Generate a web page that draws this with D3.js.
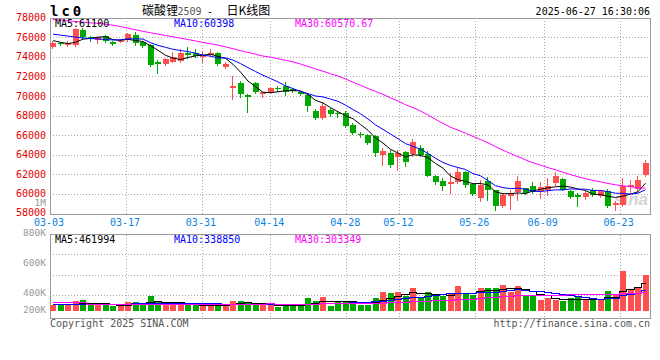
<!DOCTYPE html>
<html><head><meta charset="utf-8">
<script src="https://cdn.jsdelivr.net/npm/d3@7"></script>
<style>body{margin:0;background:#fff}svg{display:block}</style>
</head><body>
<script>
// ---------- data ----------
const dates = ["03-03","03-04","03-05","03-06","03-07","03-10","03-11","03-12","03-13","03-14",
"03-17","03-18","03-19","03-20","03-21","03-24","03-25","03-26","03-27","03-28",
"03-31","04-01","04-02","04-03","04-07","04-08","04-09","04-10","04-11","04-14",
"04-15","04-16","04-17","04-18","04-21","04-22","04-23","04-24","04-25","04-28",
"04-29","04-30","05-06","05-07","05-08","05-09","05-12","05-13","05-14","05-15",
"05-16","05-19","05-20","05-21","05-22","05-23","05-26","05-27","05-28","05-29",
"05-30","06-03","06-04","06-05","06-06","06-09","06-10","06-11","06-12","06-13",
"06-16","06-17","06-18","06-19","06-20","06-23","06-24","06-25","06-26","06-27"];

const open = [75050,75400,75250,75220,76750,76000,75730,76170,75560,75600,
75730,76240,75560,75220,73520,73280,73520,73590,74430,74370,
74030,74200,74430,73010,70770,71380,70090,71320,70230,70460,
70870,71040,70700,70360,70120,68490,67750,68600,68260,68260,
67070,66150,66050,65870,64010,64180,63775,64245,64060,64690,
64110,61870,61290,61020,61190,62200,61050,59600,61290,60372,
58740,59830,60170,60575,60780,60270,60440,61120,61560,60300,
59900,59660,60440,59830,60300,58900,58910,60700,60460,61900];

const high = [75600,75500,75600,76900,76950,76100,76050,76250,75650,75800,
76450,76570,75650,75300,73690,73900,74540,74780,75050,74780,
74640,74780,74540,73460,72060,71580,70200,71480,70460,70950,
71000,71480,70800,70450,70200,68700,69280,68800,68420,68420,
67240,66350,66150,66000,64690,64520,64520,64400,65640,65030,
64345,61950,61665,62175,62650,62300,61150,61460,61766,60450,
60050,60440,61870,60650,61185,61260,61665,62280,61650,60450,
60100,60250,60600,60350,60550,59300,61640,61390,61870,63430];

const low = [74950,75200,75150,75100,75900,75600,75400,75550,75200,75500,
75650,75220,75050,73080,72400,73150,73450,73520,73860,74030,
73520,74100,73210,72840,69690,69850,68320,70300,69850,70350,
70550,70120,70400,70100,68420,67650,67650,67950,67880,66830,
66100,65850,65100,63840,62920,62790,62480,62820,63900,63900,
61800,61050,60440,60135,61100,60750,59900,59300,59430,58400,
58650,58500,59430,60000,60050,59630,59930,60950,60400,59600,
58800,59500,59760,59700,58700,58400,58810,60240,60340,61870];

const close = [75450,75300,75450,76820,76030,75800,76000,75660,75290,75650,
76340,75400,75150,73180,73280,73790,73970,74430,74200,74100,
74200,74430,73280,73250,71040,70230,69850,70460,70360,70810,
70700,70360,70530,70230,68930,67750,69000,68150,68150,66890,
66220,66050,65200,64180,64345,62990,64180,63225,65260,64010,
61870,61190,60850,61190,62200,60950,60034,60950,60440,58740,
59930,60100,61290,60100,60170,60710,60850,61800,60440,59700,
59700,60100,59930,60270,58800,59100,60780,60950,61430,63200];

const volume = [101000,101000,101000,174000,186000,130000,101000,101000,85000,85000,
157000,152000,101000,254000,174000,118000,118000,118000,101000,101000,
101000,101000,140000,101000,174000,174000,157000,101000,101000,101000,
63000,101000,101000,118000,225000,174000,232000,93000,157000,174000,
152000,101000,101000,220000,327000,310000,327000,254000,389000,232000,
327000,254000,254000,288000,423000,310000,271000,389000,389000,389000,
440000,327000,423000,254000,271000,186000,220000,186000,174000,220000,
242000,186000,198000,186000,343000,271000,682000,377000,389000,609000];

const ma5Head  = [75660,75480,75360,75480];
const ma10Head = [76320,76220,76120,76010,75930,75870,75830,75770,75730];
const ma30Head = [77820,77760,77680,77610,77550,77480,77420,77340,77230,77100,
76930,76770,76610,76460,76320,76180,76050,75910,75770,75630,
75470,75340,75200,75020,74830,74630,74450,74270,74080];
const vma5Head  = [125000,120000,118000,125000];
const vma10Head = [118000,118000,117000,118000,120000,122000,121000,119000,116000];
const vma30Head = [150000,150000,150000,150000,150000,115000,115000,115000,115000,115000,
115000,115000,115000,115000,115000,115000,115000,115000,115000,115000,
115000,115000,115000,115000,115000,115000,115000,115000,115000];

const priceTicks = [78000,76000,74000,72000,70000,68000,66000,64000,62000,60000,58000];
const volTicks = [1000000,800000,600000,400000,200000];
const volTickLabels = ["1M","800K","600K","400K","200K"];
const dateTicks = ["03-03","03-17","03-31","04-14","04-28","05-12","05-26","06-09","06-23"];
const priceMaLabels = ["MA5:61100","MA10:60398","MA30:60570.67"];
const volMaLabels = ["MA5:461994","MA10:338850","MA30:303349"];
const maColors = ["#000000","#0000ff","#ff00ff"];

// ---------- layout ----------
const W = 660, H = 360;
const L = 50, R = 650;
const pTop = 17.7, pBot = 213.5;
const vTop = 234.5, vBot = 318.5, vBase = 311;
const UP = "#ff5050", DOWN = "#00a800";
const MONO = "'DejaVu Sans Mono', monospace";

const n = dates.length;
const xb = d3.scaleBand().domain(d3.range(n)).range([L, R]).paddingInner(0.2).paddingOuter(0.1).align(0);
const gx = d3.scaleLinear().domain([0, n - 1]).range([L, R]);
const yP = d3.scaleLinear().domain([58000, 78000]).range([pBot, pTop]);
const yV = d3.scaleLinear().domain([0, 1000000]).range([vBase, vBase - 59.1]);
const yVLabel = d3.scaleLinear().domain([0, 1000000]).range([352, 202.5]);

function movingAvg(vals, win, head) {
  return vals.map((v, i) => i < head.length ? head[i] : d3.mean(vals.slice(i - win + 1, i + 1)));
}
const pMA = [movingAvg(close, 5, ma5Head), movingAvg(close, 10, ma10Head), movingAvg(close, 30, ma30Head)];
const vMA = [movingAvg(volume, 5, vma5Head), movingAvg(volume, 10, vma10Head), movingAvg(volume, 30, vma30Head)];

const svg = d3.select("body").append("svg").attr("width", W).attr("height", H)
  .style("font-family", MONO);
svg.append("rect").attr("width", W).attr("height", H).attr("fill", "#fff");

const crisp = v => Math.round(v) + 0.5;
const gridColor = "#a8a8a8";

// ---------- grids ----------
const g = svg.append("g").attr("shape-rendering", "crispEdges");
g.selectAll(".hp").data(priceTicks.slice(1, -1)).join("line")
  .attr("x1", L).attr("x2", R).attr("y1", d => crisp(yP(d))).attr("y2", d => crisp(yP(d)))
  .attr("stroke", gridColor).attr("stroke-dasharray", "1,2");
g.selectAll(".hv").data(d3.range(1, 4)).join("line")
  .attr("x1", L).attr("x2", R).attr("y1", d => Math.floor(vTop + d * 20.4) + 0.5).attr("y2", d => Math.floor(vTop + d * 20.4) + 0.5)
  .attr("stroke", gridColor).attr("stroke-dasharray", "1,2");
const tickIdx = dateTicks.map(t => dates.indexOf(t));
tickIdx.slice(1).forEach(i => {
  const x = crisp(gx(i));
  g.append("line").attr("x1", x).attr("x2", x).attr("y1", pTop).attr("y2", pBot).attr("stroke", gridColor).attr("stroke-dasharray", "1,2");
  g.append("line").attr("x1", x).attr("x2", x).attr("y1", vTop).attr("y2", vBot).attr("stroke", gridColor).attr("stroke-dasharray", "1,2");
});

// watermark
svg.append("text").attr("x", R - 2).attr("y", 205).attr("text-anchor", "end")
  .attr("font-family", "'Liberation Sans', sans-serif").attr("font-style", "italic").attr("font-weight", "bold")
  .attr("font-size", 17).attr("fill", "#d4d4d4").text("sina");

// ---------- frames ----------
g.append("rect").attr("x", L + 0.5).attr("y", Math.round(pTop) + 0.5).attr("width", R - L).attr("height", Math.round(pBot) - Math.round(pTop))
  .attr("fill", "none").attr("stroke", "#999");
g.append("rect").attr("x", L + 0.5).attr("y", vTop).attr("width", R - L).attr("height", vBot - vTop)
  .attr("fill", "none").attr("stroke", "#999");

// ---------- candles ----------
const cg = svg.append("g").attr("shape-rendering", "crispEdges");
const idx = d3.range(n);
const bx = i => Math.round(xb(i));
const col = i => close[i] >= open[i] ? UP : DOWN;
cg.selectAll(".wick").data(idx).join("line")
  .attr("x1", i => bx(i) + 2.5).attr("x2", i => bx(i) + 2.5)
  .attr("y1", i => Math.round(yP(high[i]))).attr("y2", i => Math.round(yP(low[i])) + 1)
  .attr("stroke", col);
cg.selectAll(".body").data(idx).join("rect")
  .attr("x", bx).attr("width", Math.round(xb.bandwidth()))
  .attr("y", i => Math.round(yP(Math.max(open[i], close[i]))))
  .attr("height", i => Math.max(1, Math.round(yP(Math.min(open[i], close[i]))) - Math.round(yP(Math.max(open[i], close[i])))))
  .attr("fill", col);

cg.selectAll(".vol").data(idx).join("rect")
  .attr("x", bx).attr("width", Math.round(xb.bandwidth()))
  .attr("y", i => Math.round(yV(volume[i])))
  .attr("height", i => vBase - Math.round(yV(volume[i])))
  .attr("fill", col);

// ---------- MA lines ----------
const cx = i => xb(i) + xb.bandwidth() / 2;
pMA.forEach((arr, k) => {
  svg.append("path").datum(arr)
    .attr("d", d3.line().x((d, i) => cx(i)).y(d => yP(d)))
    .attr("fill", "none").attr("stroke", maColors[k]).attr("stroke-width", 1);
});
vMA.forEach((arr, k) => {
  svg.append("path").datum(arr)
    .attr("d", d3.line().curve(d3.curveStep).x((d, i) => cx(i)).y(d => Math.round(yV(d)) + 0.5))
    .attr("fill", "none").attr("stroke", maColors[k]).attr("stroke-width", 1).attr("shape-rendering", "crispEdges");
});

// ---------- texts ----------
const T = svg.append("g").attr("font-family", MONO).attr("font-size", 10);
T.selectAll(".pl").data(priceTicks).join("text")
  .attr("x", 46).attr("y", d => Math.min(yP(d), 212)).attr("dy", "0.35em").attr("text-anchor", "end")
  .attr("fill", "#e00000").text(d => d);
T.selectAll(".vl").data(volTicks).join("text")
  .attr("x", 46).attr("y", d => Math.min(yVLabel(d), 310)).attr("dy", "0.35em").attr("text-anchor", "end")
  .attr("font-size", 9.5).attr("fill", "#999").text((d, i) => volTickLabels[i]);
T.selectAll(".dl").data(tickIdx).join("text")
  .attr("x", i => gx(i) - 1).attr("y", 225.5).attr("text-anchor", "middle")
  .attr("fill", "#0a84e0").text((i, k) => dateTicks[k]);
const legX = [55, 174, 295];
priceMaLabels.forEach((s, k) => T.append("text").attr("x", legX[k]).attr("y", 27).attr("fill", maColors[k]).text(s));
volMaLabels.forEach((s, k) => T.append("text").attr("x", legX[k]).attr("y", 242.5).attr("fill", maColors[k]).text(s));

// header
svg.append("text").attr("x", 50).attr("y", 16).attr("font-family", MONO).attr("font-weight", "bold")
  .attr("font-size", 14).attr("letter-spacing", 3).attr("fill", "#000").text("lc0");
const title = svg.append("text").attr("y", 15).attr("font-size", 12).attr("fill", "#000")
  .attr("font-family", "'Noto Sans CJK SC', sans-serif");
title.append("tspan").attr("x", 142).text("碳酸锂");
title.append("tspan").attr("x", 177.5).attr("font-family", MONO).attr("font-size", 10).attr("fill", "#555").text("2509");
title.append("tspan").attr("x", 207).attr("font-family", MONO).attr("font-size", 10).text("-");
title.append("tspan").attr("x", 226.5).text("日K线图");
svg.append("text").attr("x", R).attr("y", 15).attr("text-anchor", "end").attr("font-family", MONO)
  .attr("font-size", 10).attr("fill", "#000").text("2025-06-27 16:30:06");

// footer
svg.append("text").attr("x", 50).attr("y", 327).attr("font-family", MONO).attr("font-size", 10)
  .attr("fill", "#555").text("Copyright 2025 SINA.COM");
svg.append("text").attr("x", R).attr("y", 327).attr("text-anchor", "end").attr("font-family", MONO).attr("font-size", 10)
  .attr("fill", "#555").text("http://finance.sina.com.cn");
</script>
</body></html>
